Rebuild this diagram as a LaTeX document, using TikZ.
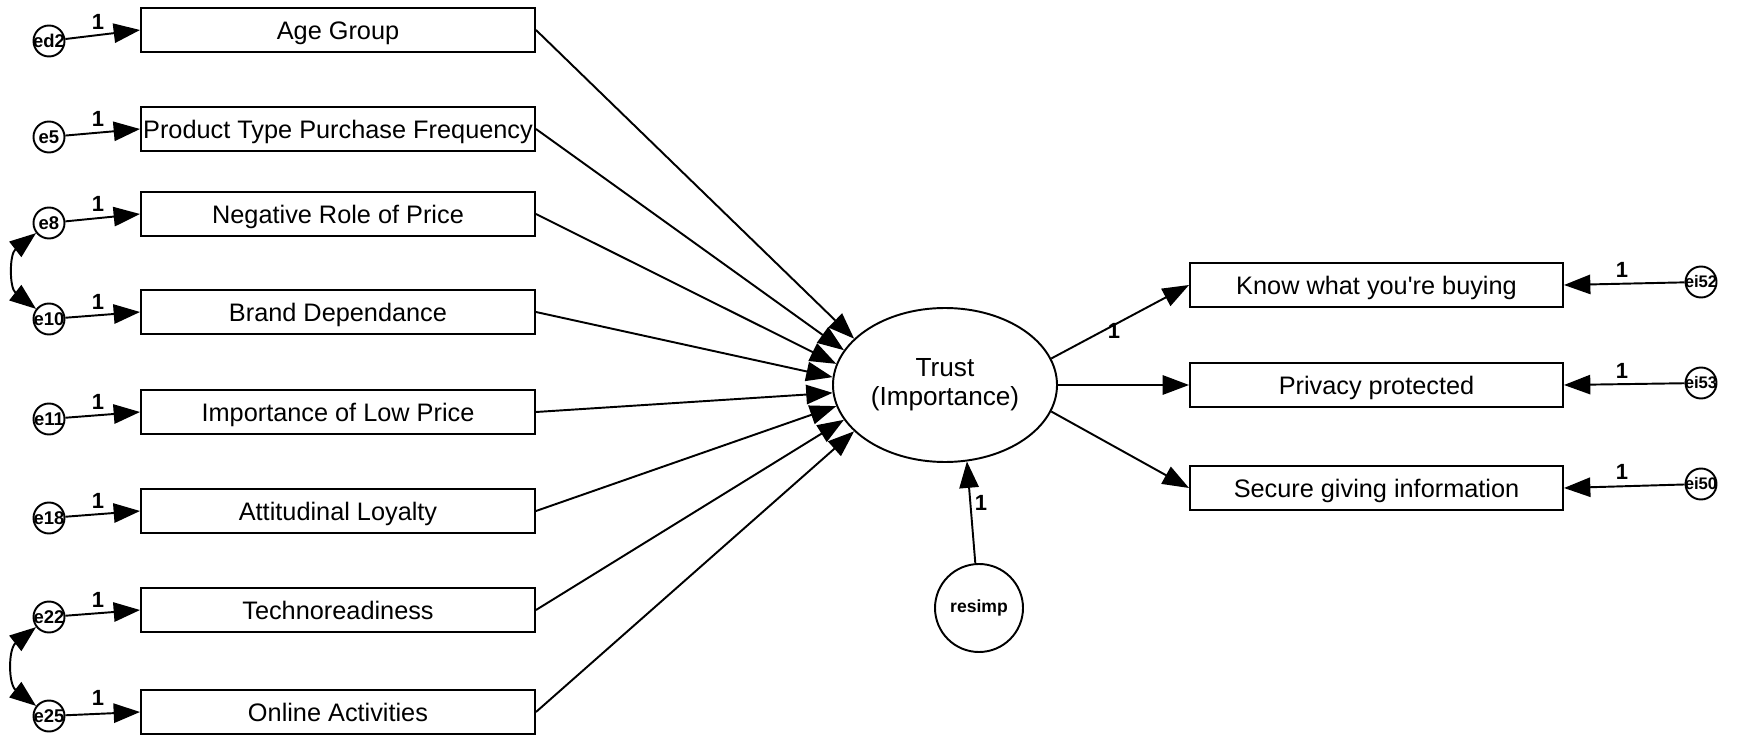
\documentclass[tikz,border=0pt]{standalone}
\usepackage{fontspec}
\setmainfont{Liberation Sans}
\newfontfamily\plainsans{Liberation Sans}[Ligatures=TeXOff]
\usepackage{tikz}
\usetikzlibrary{shapes}
\usetikzlibrary{shapes.geometric}
\usetikzlibrary{arrows.meta}
\pgfdeclarelayer{edgelayer}
\pgfdeclarelayer{nodelayer}
\pgfsetlayers{edgelayer,nodelayer,main}
\tikzstyle{none}=[inner sep=0pt]
\tikzstyle{measure}=[draw, rectangle, line width=1.1pt, fill=white, minimum height=0.88cm, inner sep=1pt, text height=10.3pt, text depth=0pt, font=\fontsize{14.4}{17}\selectfont]
\tikzstyle{lbox}=[measure, minimum width=7.88cm]
\tikzstyle{rbox}=[measure, minimum width=7.46cm]
\tikzstyle{latent}=[draw, ellipse, line width=1.1pt, fill=white, minimum width=4.48cm, minimum height=3.08cm, inner sep=0pt, align=center, font=\fontsize{14.9}{16.4}\selectfont]
\tikzstyle{err}=[draw, circle, line width=1.1pt, fill=white, minimum size=0.62cm, inner sep=-4pt, font=\bfseries\fontsize{10.5}{12}\selectfont]
\tikzstyle{erri}=[err, font=\bfseries\fontsize{9.5}{11}\selectfont]
\tikzstyle{res}=[draw, circle, line width=1.1pt, fill=white, minimum size=1.76cm, inner sep=0pt, font=\bfseries\fontsize{10}{12}\selectfont]
\tikzstyle{one}=[inner sep=0pt, font=\bfseries\fontsize{12.5}{13}\selectfont]
\tikzstyle{reg}=[->, line width=1.1pt]
\tikzstyle{cov}=[<->, line width=1.1pt]
\tikzset{>={Triangle[length=15pt, width=11pt]}}

\begin{document}
\begin{tikzpicture}
	\useasboundingbox (0, 0) rectangle (34.76, -14.7);
	\begin{pgfonlayer}{nodelayer}
		\node [style=lbox] (0) at (6.76, -0.60) {Age Group};
		\node [style=lbox] (1) at (6.76, -2.58) {Product Type Purchase Frequency};
		\node [style=lbox] (2) at (6.76, -4.28) {Negative Role of Price};
		\node [style=lbox] (3) at (6.76, -6.24) {Brand Dependance};
		\node [style=lbox] (4) at (6.76, -8.24) {Importance of Low Price};
		\node [style=lbox] (5) at (6.76, -10.22) {Attitudinal Loyalty};
		\node [style=lbox] (6) at (6.76, -12.20) {Technoreadiness};
		\node [style=lbox] (7) at (6.76, -14.24) {Online Activities};
		\node [style=err] (8) at (0.98, -0.82) {ed2};
		\node [style=err] (9) at (0.98, -2.74) {e5};
		\node [style=err] (10) at (0.98, -4.46) {e8};
		\node [style=err] (11) at (0.98, -6.38) {e10};
		\node [style=err] (12) at (0.98, -8.38) {e11};
		\node [style=err] (13) at (0.98, -10.36) {e18};
		\node [style=err] (14) at (0.98, -12.34) {e22};
		\node [style=err] (15) at (0.98, -14.32) {e25};
		\node [style=latent] (16) at (18.90, -7.70) {Trust\\(Importance)};
		\node [style=rbox] (17) at (27.53, -5.70) {Know what you{\plainsans'}re buying};
		\node [style=rbox] (18) at (27.53, -7.70) {Privacy protected};
		\node [style=rbox] (19) at (27.53, -9.76) {Secure giving information};
		\node [style=erri] (20) at (34.02, -5.64) {ei52};
		\node [style=erri] (21) at (34.02, -7.66) {ei53};
		\node [style=erri] (22) at (34.02, -9.68) {ei50};
		\node [style=res] (23) at (19.58, -12.16) {resimp};
		\node [style=one] (24) at (1.96, -0.44) {1};
		\node [style=one] (25) at (1.96, -2.38) {1};
		\node [style=one] (26) at (1.96, -4.08) {1};
		\node [style=one] (27) at (1.96, -6.04) {1};
		\node [style=one] (28) at (1.96, -8.04) {1};
		\node [style=one] (29) at (1.96, -10.02) {1};
		\node [style=one] (30) at (1.96, -12.00) {1};
		\node [style=one] (31) at (1.96, -13.96) {1};
		\node [style=one] (32) at (32.44, -5.40) {1};
		\node [style=one] (33) at (32.44, -7.42) {1};
		\node [style=one] (34) at (32.44, -9.44) {1};
		\node [style=one] (35) at (22.28, -6.62) {1};
		\node [style=one] (36) at (19.62, -10.06) {1};
	\end{pgfonlayer}
	\begin{pgfonlayer}{edgelayer}
		\draw [style=reg] (8) to (0.west);
		\draw [style=reg] (9) to (1.west);
		\draw [style=reg] (10) to (2.west);
		\draw [style=reg] (11) to (3.west);
		\draw [style=reg] (12) to (4.west);
		\draw [style=reg] (13) to (5.west);
		\draw [style=reg] (14) to (6.west);
		\draw [style=reg] (15) to (7.west);
		\draw [style=cov] (10) to [out=218, in=142, looseness=1.15] (11);
		\draw [style=cov] (14) to [out=218, in=142, looseness=1.15] (15);
		\draw [style=reg] (0.east) to (16.153);
		\draw [style=reg] (1.east) to (16.161);
		\draw [style=reg] (2.east) to (16.169);
		\draw [style=reg] (3.east) to (16.176);
		\draw [style=reg] (4.east) to (16.184);
		\draw [style=reg] (5.east) to (16.191);
		\draw [style=reg] (6.east) to (16.199);
		\draw [style=reg] (7.east) to (16.207);
		\draw [style=reg] (16.14) to (17.west);
		\draw [style=reg] (16.east) to (18.west);
		\draw [style=reg] (16.-14) to (19.west);
		\draw [style=reg] (20) to (17.east);
		\draw [style=reg] (21) to (18.east);
		\draw [style=reg] (22) to (19.east);
		\draw [style=reg] (23) to (16.-74);
	\end{pgfonlayer}
\end{tikzpicture}
\end{document}
